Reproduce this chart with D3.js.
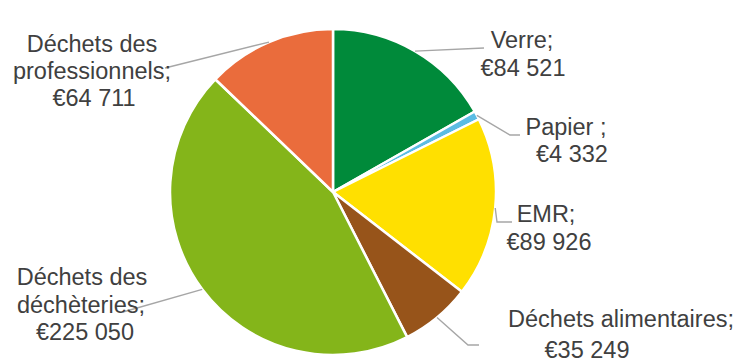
<!DOCTYPE html>
<html>
<head>
<meta charset="utf-8">
<script src="https://cdn.jsdelivr.net/npm/d3@7"></script>
<style>
  html, body { margin: 0; padding: 0; background: #fff; }
  svg { display: block; }
  text { font-family: "Liberation Sans", Arial, sans-serif; font-size: 23.5px; fill: #404040; }
</style>
</head>
<body>
<svg id="chart" width="742" height="362"></svg>
<script>
// Waste-stream costs
const categories = ["Verre", "Papier", "EMR", "Déchets alimentaires", "Déchets des déchèteries", "Déchets des professionnels"];
const values = [84521, 4332, 89926, 35249, 225050, 64711];
const nameLines = [["Verre;"], ["Papier ;"], ["EMR;"], ["Déchets alimentaires;"], ["Déchets des", "déchèteries;"], ["Déchets des", "professionnels;"]];
const colors = ["#008A3A", "#5BBCE4", "#FFE000", "#97541A", "#84B51A", "#EA6C3C"];

// Label placement: each text line's centre x and baseline y, and the leader path bends
const labelLayout = [
  { lines: [[522, 48], [523, 76]], leader: [[484, 48]] },
  { lines: [[566, 135], [572, 162]], leader: [[510, 135], [520, 135]] },
  { lines: [[546, 222], [549, 250]], leader: [[497, 222], [512, 222]] },
  { lines: [[621, 327], [587, 358]], leader: [[468, 345], [479, 345]] },
  { lines: [[82, 285], [81, 313], [85, 340]], leader: [[123, 312]] },
  { lines: [[92, 52], [92, 79], [94, 106]], leader: [[165, 68]] }
];

const cx = 333, cy = 192, radius = 163;

const locale = d3.formatLocale({ decimal: ",", thousands: " ", grouping: [3], currency: ["€", ""] });
const fmt = locale.format("$,.0f");

const data = categories.map((c, i) => ({ name: c, value: values[i], color: colors[i], i }));

const svg = d3.select("#chart");
const g = svg.append("g").attr("transform", `translate(${cx},${cy})`);

const pie = d3.pie().value(d => d.value).sort(null);
const arc = d3.arc().innerRadius(0).outerRadius(radius);
const edgeArc = d3.arc().innerRadius(radius).outerRadius(radius);
const arcs = pie(data);

g.selectAll("path.slice")
  .data(arcs)
  .join("path")
  .attr("class", "slice")
  .attr("d", arc)
  .attr("fill", d => d.data.color)
  .attr("stroke", "#fff")
  .attr("stroke-width", 2.5)
  .attr("stroke-linejoin", "round");

// Leader lines from the slice edge to each label
const line = d3.line();
svg.selectAll("path.leader")
  .data(arcs)
  .join("path")
  .attr("class", "leader")
  .attr("fill", "none")
  .attr("stroke", "#A6A6A6")
  .attr("stroke-width", 1.4)
  .attr("d", d => {
    const [ex, ey] = edgeArc.centroid(d);
    const pts = [[cx + ex, cy + ey], ...labelLayout[d.data.i].leader];
    return line(pts);
  });

// Labels: name lines followed by the formatted amount
arcs.forEach(d => {
  const i = d.data.i;
  const texts = [...nameLines[i], fmt(d.data.value)];
  const pos = labelLayout[i].lines;
  texts.forEach((t, k) => {
    svg.append("text")
      .attr("x", pos[k][0])
      .attr("y", pos[k][1])
      .attr("text-anchor", "middle")
      .text(t);
  });
});
</script>
</body>
</html>
